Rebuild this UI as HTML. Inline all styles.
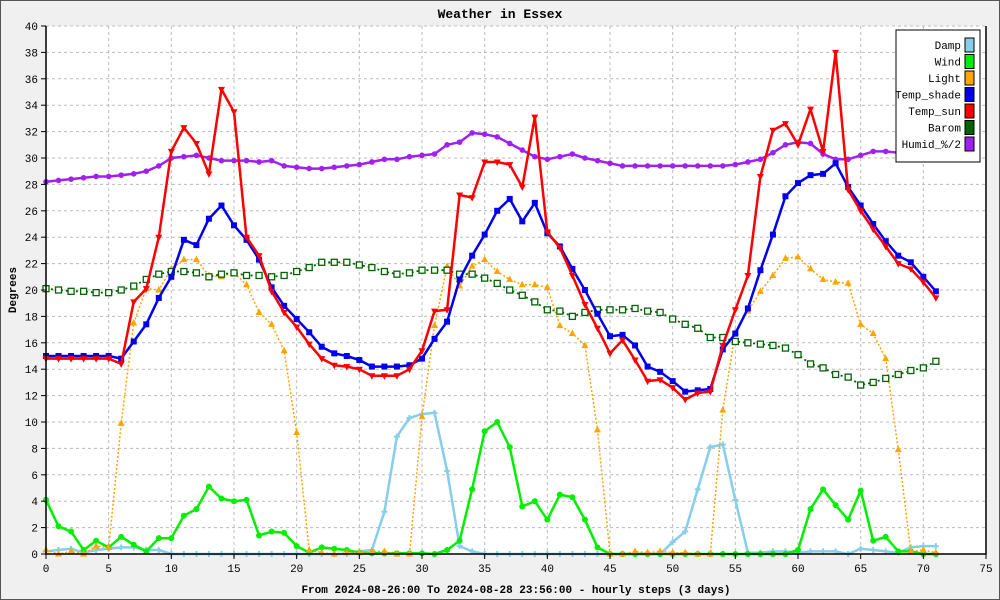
<!DOCTYPE html>
<html><head><meta charset="utf-8"><style>
html,body{margin:0;padding:0;background:#f0f0f0}
svg{display:block;font-family:"Liberation Mono","DejaVu Sans Mono",monospace}
</style></head><body>
<svg id="chart" width="1000" height="600" viewBox="0 0 1000 600" xmlns="http://www.w3.org/2000/svg">
<rect x="0.5" y="0.5" width="999" height="599" fill="#f0f0f0" stroke="#555"/>
<rect x="46" y="26" width="940" height="528" fill="#ffffff"/>
<g id="grid"></g>
<g id="series"></g>
<g id="axes"></g>
<text x="500" y="18" text-anchor="middle" font-size="13" font-weight="bold">Weather in Essex</text>
<text x="516" y="593" text-anchor="middle" font-size="11" font-weight="bold">From 2024-08-26:00 To 2024-08-28 23:56:00 - hourly steps (3 days)</text>
<text x="16" y="290" text-anchor="middle" font-size="11" font-weight="bold" transform="rotate(-90 16 290)">Degrees</text>
<g id="legend"></g>
</svg>
<script>
const xTicks=[0,5,10,15,20,25,30,35,40,45,50,55,60,65,70,75];
const yTicks=[0,2,4,6,8,10,12,14,16,18,20,22,24,26,28,30,32,34,36,38,40];
const damp=[0.2,0.3,0.4,0.1,0.3,0.4,0.5,0.5,0.3,0.3,0,0,0,0,0,0,0,0,0,0,0,0,0,0,0,0.2,0.3,3.2,8.9,10.3,10.6,10.7,6.3,0.6,0.2,0,0,0,0,0,0,0,0,0,0,0,0,0,0,0,0.9,1.7,4.9,8.1,8.3,4.1,0.1,0.1,0.2,0.2,0.1,0.2,0.2,0.2,0,0.4,0.3,0.2,0.1,0.5,0.6,0.6];
const wind=[4.1,2.1,1.7,0.3,1,0.5,1.3,0.7,0.2,1.2,1.2,2.9,3.4,5.1,4.2,4,4.1,1.4,1.7,1.6,0.6,0.1,0.5,0.4,0.3,0.1,0.05,0.05,0.05,0.05,0.05,0,0.3,1,4.9,9.3,10,8.1,3.6,4,2.6,4.5,4.3,2.6,0.5,0,0,0,0,0,0,0,0,0,0,0,0,0,0,0,0.3,3.4,4.9,3.7,2.6,4.8,1.0,1.3,0.2,0.2,0,0];
const light=[0.3,0,0.2,0,0.6,0.5,9.9,17.5,20.1,20,21.6,22.3,22.3,21.1,21,21.3,20.4,18.3,17.4,15.4,9.2,0.3,0.1,0,0.1,0.1,0.2,0.2,0,0,10.4,17.3,21.8,20.3,21.8,22.3,21.4,20.8,20.4,20.4,20.2,17.3,16.7,15.8,9.4,0,0,0.2,0.1,0.2,0.1,0.1,0,0,10.9,16.8,18.4,19.9,21.1,22.4,22.5,21.6,20.8,20.6,20.5,17.4,16.7,14.8,7.9,0.2,0.3,0.1];
const tempShade=[15,15,15,15,15,15,14.8,16.1,17.4,19.4,21,23.8,23.4,25.4,26.4,24.9,23.8,22.3,20.2,18.8,17.8,16.8,15.7,15.2,15,14.7,14.2,14.2,14.2,14.3,14.8,16.3,17.6,20.8,22.6,24.2,26,26.9,25.2,26.6,24.3,23.3,21.6,20,18.2,16.5,16.6,15.8,14.2,13.8,13.1,12.3,12.4,12.5,15.5,16.7,18.6,21.5,24.2,27.1,28.1,28.7,28.8,29.6,27.8,26.4,25,23.7,22.6,22.1,21,19.9];
const tempSun=[14.8,14.8,14.8,14.8,14.8,14.8,14.4,19.1,20.1,24,30.5,32.3,31.1,28.8,35.2,33.5,24,22.6,19.9,18.3,17.2,15.9,14.8,14.3,14.2,14,13.5,13.5,13.5,14,15.4,18.4,18.5,27.2,27,29.7,29.7,29.5,27.8,33.1,24.4,23.2,21.1,18.9,17.1,15.2,16.2,14.7,13.1,13.2,12.6,11.7,12.2,12.3,15.8,18.5,21.1,28.6,32.1,32.6,31,33.7,30.5,38,27.6,26,24.6,23.3,22,21.6,20.6,19.4];
const barom=[20.1,20,19.9,19.9,19.8,19.8,20,20.3,20.8,21.2,21.4,21.4,21.3,21,21.2,21.3,21.1,21.1,21,21.1,21.4,21.7,22.1,22.1,22.1,21.9,21.7,21.4,21.2,21.3,21.5,21.5,21.5,21.2,21.2,20.9,20.5,20,19.6,19.1,18.5,18.4,18,18.3,18.5,18.5,18.5,18.6,18.4,18.3,17.8,17.4,17.1,16.4,16.4,16.1,16,15.9,15.8,15.6,15.1,14.4,14.1,13.6,13.4,12.8,13,13.3,13.6,13.9,14.1,14.6];
const humid=[28.2,28.3,28.4,28.5,28.6,28.6,28.7,28.8,29,29.4,30,30.1,30.2,30,29.8,29.8,29.8,29.7,29.8,29.4,29.3,29.2,29.2,29.3,29.4,29.5,29.7,29.9,29.9,30.1,30.2,30.3,31,31.2,31.9,31.8,31.6,31.1,30.6,30.1,29.9,30.1,30.3,30,29.8,29.6,29.4,29.4,29.4,29.4,29.4,29.4,29.4,29.4,29.4,29.5,29.7,29.9,30.4,31,31.2,31.1,30.3,29.9,29.9,30.2,30.5,30.5,30.4,30.3,30.3,30.4];
const seriesNames=["Damp","Wind","Light","Temp_shade","Temp_sun","Barom","Humid_%/2"];

const NS="http://www.w3.org/2000/svg";
const L=46,R=986,T=26,B=554;
const xs=v=>L+(v-0)/(75-0)*(R-L);
const ys=v=>B-(v-0)/(40-0)*(B-T);
function mk(tag,attrs,parent){const e=document.createElementNS(NS,tag);for(const k in attrs)e.setAttribute(k,attrs[k]);parent.appendChild(e);return e;}
const grid=document.getElementById('grid'),axes=document.getElementById('axes'),ser=document.getElementById('series'),leg=document.getElementById('legend');
xTicks.forEach(t=>{
  const x=xs(t);
  if(t>0){const g=mk('line',{x1:x,x2:x,y1:T,y2:B,stroke:'#bbb','stroke-dasharray':'3,3'},grid);
  
  }
  const tk=mk('line',{x1:x,x2:x,y1:B,y2:B+5,stroke:'#000'},axes);
  
  
  const lb=mk('text',{x:x,y:B+18,'text-anchor':'middle','font-size':'11'},axes);lb.textContent=t;
  
  
});
yTicks.forEach(t=>{
  const y=ys(t);
  if(t>0){const g=mk('line',{x1:L,x2:R,y1:y,y2:y,stroke:'#bbb','stroke-dasharray':'3,3'},grid);
  
  }
  const tk=mk('line',{x1:L-5,x2:L,y1:y,y2:y,stroke:'#000'},axes);
  
  
  const lb=mk('text',{x:L-8,y:y+4,'text-anchor':'end','font-size':'11'},axes);lb.textContent=t;
  
  
});
const ax=mk('path',{d:`M${L},${T}V${B}H${R}V${T}`,stroke:'#000',fill:'none','stroke-width':'1.5'},axes);



function marker(g,shape,x,y,c){
  let e;
  if(shape==='circle')e=mk('circle',{cx:x,cy:y,r:3,fill:c},g);
  else if(shape==='up')e=mk('polygon',{points:`${x},${y-4} ${x-3.5},${y+2.5} ${x+3.5},${y+2.5}`,fill:c},g);
  else if(shape==='down')e=mk('polygon',{points:`${x},${y+4} ${x-3.5},${y-2.5} ${x+3.5},${y-2.5}`,fill:c},g);
  else if(shape==='sq')e=mk('rect',{x:x-3,y:y-3,width:6,height:6,fill:c},g);
  else if(shape==='hsq')e=mk('rect',{x:x-3,y:y-3,width:6,height:6,fill:'#fff',stroke:c,'stroke-width':1.3},g);
  else if(shape==='star')e=mk('path',{d:`M${x-3},${y}H${x+3}M${x},${y-3}V${y+3}`,stroke:c,'stroke-width':2},g);
  else e=mk('circle',{cx:x,cy:y,r:2.8,fill:c},g);
  
  
}
const defs=[
 {data:damp,color:'#87ceeb',w:2.5,dash:null,shape:'star',name:'damp-series'},
 {data:wind,color:'#00ee00',w:2.5,dash:null,shape:'circle',name:'wind-series'},
 {data:light,color:'#ffa500',w:1.5,dash:'2,2',shape:'up',name:'light-series'},
 {data:barom,color:'#006400',w:1.8,dash:'2,3',shape:'hsq',name:'barom-series'},
 {data:humid,color:'#a020f0',w:2.5,dash:null,shape:'hum',name:'humid-series'},
 {data:tempShade,color:'#0000ee',w:2.5,dash:null,shape:'sq',name:'temp-shade-series'},
 {data:tempSun,color:'#ff0000',w:2.5,dash:null,shape:'down',name:'temp-sun-series'}
];
defs.forEach(s=>{
  const g=mk('g',{},ser);
  
  
  const d=s.data.map((v,i)=>(i?'L':'M')+xs(i).toFixed(1)+','+ys(v).toFixed(1)).join('');
  const p=mk('path',{d:d,fill:'none',stroke:s.color,'stroke-width':s.w,'stroke-linejoin':'round'},g);
  if(s.dash)p.setAttribute('stroke-dasharray',s.dash);
  
  
  s.data.forEach((v,i)=>marker(g,s.shape,xs(i),ys(v),s.color));
});
// connectors for light when gray drop lines appear
// legend
const lb=mk('rect',{x:896,y:30,width:84,height:132,fill:'#fff',stroke:'#000'},leg);


const legColors=['#87ceeb','#00ee00','#ffa500','#0000ee','#ff0000','#006400','#a020f0'];
seriesNames.forEach((n,i)=>{
  const y=38+i*16.5;
  const g=mk('g',{},leg);
  
  
  const t=mk('text',{x:961,y:y+11,'text-anchor':'end','font-size':'11'},g);t.textContent=n;
  const r=mk('rect',{x:965,y:y,width:9,height:14,fill:legColors[i],stroke:'#000'},g);
  
  
});
</script>
</body></html>
